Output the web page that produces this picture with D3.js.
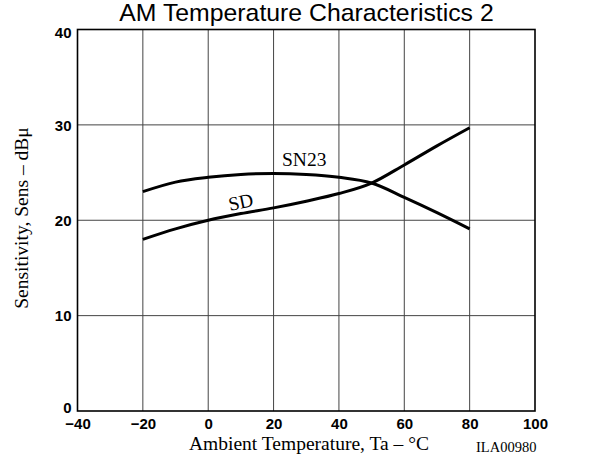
<!DOCTYPE html>
<html>
<head>
<meta charset="utf-8">
<script src="https://cdn.jsdelivr.net/npm/d3@7"></script>
<style>
  html, body { margin: 0; padding: 0; background: #fff; }
  svg { display: block; }
</style>
</head>
<body>
<svg id="chart" width="606" height="458"></svg>
<script>
// Ambient temperature (°C) at which each curve is sampled
const temps = [-20, -10, 0, 10, 20, 30, 40, 50, 60, 70, 80];
// Sensitivity (dBμ) for each device
const sn23 = [23.0, 24.0, 24.5, 24.8, 24.9, 24.8, 24.5, 23.9, 22.4, 20.8, 19.1];
const sd   = [18.0, 19.1, 20.0, 20.7, 21.3, 22.0, 22.8, 23.9, 25.8, 27.8, 29.7];
// Axis ticks
const xTicks = [-40, -20, 0, 20, 40, 60, 80, 100];
const yTicks = [0, 10, 20, 30, 40];

const svg = d3.select("#chart");
const plotL = 77.5, plotR = 535, plotT = 29.5, plotB = 411;

const x = d3.scaleLinear().domain([-40, 100]).range([plotL, plotR]);
const y = d3.scaleLinear().domain([0, 40]).range([plotB, plotT]);

const sans = "Liberation Sans, Arial, Helvetica, sans-serif";
const serif = "Liberation Serif, Times New Roman, serif";

// Title
svg.append("text")
  .attr("x", 306.5).attr("y", 21)
  .attr("text-anchor", "middle")
  .attr("font-family", sans)
  .attr("font-size", 24.8)
  .text("AM Temperature Characteristics 2");

// Grid lines
const grid = svg.append("g").attr("stroke", "#444").attr("stroke-width", 1);
grid.selectAll("line.v").data(xTicks.slice(1, -1)).join("line")
  .attr("class", "v")
  .attr("x1", d => x(d)).attr("x2", d => x(d))
  .attr("y1", plotT).attr("y2", plotB);
grid.selectAll("line.h").data(yTicks.slice(1, -1)).join("line")
  .attr("class", "h")
  .attr("y1", d => y(d)).attr("y2", d => y(d))
  .attr("x1", plotL).attr("x2", plotR);

// Frame
svg.append("rect")
  .attr("x", plotL).attr("y", plotT)
  .attr("width", plotR - plotL).attr("height", plotB - plotT)
  .attr("fill", "none").attr("stroke", "#000").attr("stroke-width", 1.6);

// Axes (labels only; the frame and grid draw the lines)
const xAxis = d3.axisBottom(x).tickValues(xTicks).tickSize(0).tickPadding(7)
  .tickFormat(d => d < 0 ? "\u2212" + Math.abs(d) : d);
const gx = svg.append("g").attr("transform", `translate(0,${plotB})`).call(xAxis);
gx.select(".domain").remove();
gx.selectAll("text")
  .attr("font-family", sans)
  .attr("font-size", 15).attr("font-weight", "bold").attr("fill", "#000");

const yAxis = d3.axisLeft(y).tickValues(yTicks).tickSize(0).tickPadding(6);
const gy = svg.append("g").attr("transform", `translate(${plotL},0)`).call(yAxis);
gy.select(".domain").remove();
gy.selectAll("text")
  .attr("font-family", sans)
  .attr("font-size", 15).attr("font-weight", "bold").attr("fill", "#000")
  .attr("dy", d => d === 0 ? "0.1em" : d === 40 ? "0.5em" : "0.35em");

// Axis titles
svg.append("text")
  .attr("x", 309).attr("y", 450)
  .attr("text-anchor", "middle")
  .attr("font-family", serif)
  .attr("font-size", 19.5)
  .text("Ambient Temperature, Ta \u2013 \u00B0C");

svg.append("text")
  .attr("transform", "translate(28,218) rotate(-90)")
  .attr("text-anchor", "middle")
  .attr("font-family", serif)
  .attr("font-size", 19.5)
  .text("Sensitivity, Sens \u2013 dB\u03BC");

svg.append("text")
  .attr("x", 476).attr("y", 452)
  .attr("font-family", serif)
  .attr("font-size", 14.5)
  .text("ILA00980");

// Curves
const line = d3.line()
  .x((d, i) => x(temps[i]))
  .y(d => y(d))
  .curve(d3.curveMonotoneX);

svg.append("g").selectAll("path").data([sn23, sd]).join("path")
  .attr("d", line)
  .attr("fill", "none").attr("stroke", "#000").attr("stroke-width", 3)
  .attr("stroke-linecap", "butt");

// Curve labels
svg.append("text")
  .attr("x", 282).attr("y", 166)
  .attr("font-family", serif)
  .attr("font-size", 19.5)
  .text("SN23");

svg.append("text")
  .attr("transform", "translate(230,211) rotate(-12)")
  .attr("font-family", serif)
  .attr("font-size", 19.5)
  .text("SD");
</script>
</body>
</html>
